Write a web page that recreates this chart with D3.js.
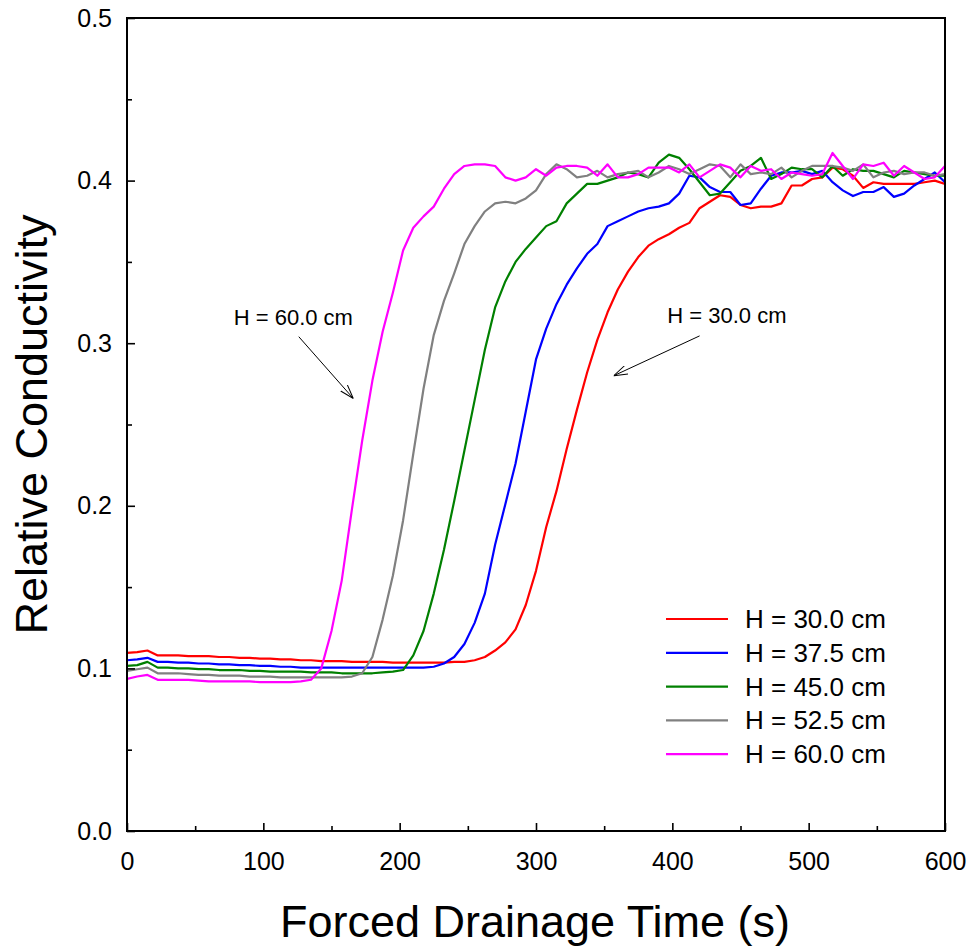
<!DOCTYPE html>
<html>
<head>
<meta charset="utf-8">
<script src="https://cdn.jsdelivr.net/npm/d3@7"></script>
<style>
  body { margin: 0; background: #fff; }
  text { font-family: Arial, "Liberation Sans", sans-serif; fill: #000; }
</style>
</head>
<body>
<div id="chart"></div>
<script>
// sample times (s)
var time = [0, 7.5, 15, 22.5, 30, 37.5, 45, 52.5, 60, 67.5, 75, 82.5, 90, 97.5, 105, 112.5, 120, 127.5, 135, 142.5,
  150, 157.5, 165, 172.5, 180, 187.5, 195, 202.5, 210, 217.5, 225, 232.5, 240, 247.5, 255, 262.5, 270, 277.5, 285, 292.5,
  300, 307.5, 315, 322.5, 330, 337.5, 345, 352.5, 360, 367.5, 375, 382.5, 390, 397.5, 405, 412.5, 420, 427.5, 435, 442.5,
  450, 457.5, 465, 472.5, 480, 487.5, 495, 502.5, 510, 517.5, 525, 532.5, 540, 547.5, 555, 562.5, 570, 577.5, 585, 592.5, 600]

var h300 = [0.1095, 0.110, 0.111, 0.108, 0.108, 0.108, 0.1075, 0.1075, 0.1075, 0.107, 0.107, 0.1065, 0.1065, 0.106, 0.106, 0.1055, 0.1055,
  0.105, 0.105, 0.1045, 0.1045, 0.1045, 0.104, 0.104, 0.104, 0.104, 0.1035, 0.1035, 0.1035, 0.1035, 0.1035, 0.1035,
  0.104, 0.104, 0.105, 0.107, 0.111, 0.116, 0.124, 0.139, 0.160, 0.187, 0.209, 0.235, 0.259, 0.282, 0.302, 0.319, 0.333, 0.344,
  0.353, 0.360, 0.364, 0.367, 0.371, 0.374, 0.383, 0.387, 0.391, 0.390, 0.385, 0.383, 0.384, 0.384, 0.386, 0.397, 0.397, 0.401,
  0.402, 0.408, 0.407, 0.403, 0.3955, 0.399, 0.398, 0.398, 0.398, 0.398, 0.399, 0.400, 0.398]

var h375 = [0.105, 0.1055, 0.1065, 0.104, 0.104, 0.1035, 0.1035, 0.103, 0.103, 0.1025, 0.1025, 0.102, 0.102, 0.1015, 0.1015, 0.101, 0.101,
  0.1005, 0.1005, 0.1005, 0.1005, 0.1005, 0.1005, 0.1005, 0.1005, 0.1005, 0.1005, 0.1005, 0.1005, 0.1005, 0.101,
  0.103, 0.107, 0.115, 0.128, 0.146, 0.176, 0.201, 0.226, 0.258, 0.290, 0.309, 0.324, 0.336, 0.346, 0.355, 0.361, 0.372, 0.375,
  0.378, 0.381, 0.383, 0.384, 0.386, 0.392, 0.403, 0.402, 0.396, 0.393, 0.393, 0.385, 0.386, 0.395, 0.403, 0.405, 0.405, 0.406,
  0.404, 0.406, 0.399, 0.394, 0.3905, 0.393, 0.393, 0.396, 0.390, 0.392, 0.397, 0.401, 0.405, 0.399]

var h450 = [0.1015, 0.102, 0.104, 0.1005, 0.1005, 0.100, 0.100, 0.0995, 0.0995, 0.099, 0.099, 0.099, 0.0985, 0.0985, 0.098, 0.098,
  0.098, 0.098, 0.0975, 0.0975, 0.0975, 0.097, 0.097, 0.097, 0.097, 0.0975, 0.098, 0.099,
  0.108, 0.123, 0.146, 0.173, 0.203, 0.234, 0.265, 0.296, 0.322, 0.338, 0.350, 0.358, 0.365, 0.372, 0.375, 0.386, 0.392, 0.398,
  0.398, 0.400, 0.402, 0.405, 0.404, 0.402, 0.411, 0.416, 0.414, 0.407, 0.399, 0.391, 0.392, 0.399, 0.406, 0.409, 0.414, 0.401,
  0.404, 0.408, 0.407, 0.407, 0.402, 0.409, 0.403, 0.407, 0.406, 0.406, 0.404, 0.402, 0.406, 0.405, 0.404, 0.403, 0.403]

var h525 = [0.0985, 0.0995, 0.1005, 0.097, 0.097, 0.097, 0.0965, 0.096, 0.096, 0.0955, 0.0955, 0.0955, 0.095, 0.095, 0.095, 0.0945,
  0.0945, 0.0945, 0.0945, 0.0945, 0.0945, 0.0945, 0.095, 0.097,
  0.107, 0.130, 0.157, 0.191, 0.232, 0.272, 0.305, 0.326, 0.343, 0.361, 0.372, 0.381, 0.386, 0.387, 0.386, 0.389, 0.394, 0.404,
  0.410, 0.407, 0.402, 0.403, 0.406, 0.402, 0.404, 0.405, 0.406, 0.402, 0.405, 0.409, 0.407, 0.404, 0.407, 0.410, 0.409, 0.402,
  0.410, 0.404, 0.405, 0.404, 0.408, 0.402, 0.406, 0.409, 0.409, 0.409, 0.408, 0.406, 0.410, 0.402, 0.405, 0.406, 0.404, 0.405,
  0.405, 0.403, 0.404]

var h600 = [0.0935, 0.095, 0.096, 0.093, 0.093, 0.093, 0.093, 0.0925, 0.092, 0.092, 0.092, 0.092, 0.092, 0.0915, 0.0915, 0.0915,
  0.0915, 0.092, 0.093,
  0.100, 0.123, 0.154, 0.198, 0.240, 0.277, 0.307, 0.331, 0.357, 0.371, 0.378, 0.384, 0.395, 0.404, 0.409, 0.410, 0.410, 0.409,
  0.402, 0.400, 0.402, 0.407, 0.403, 0.408, 0.409, 0.409, 0.408, 0.403, 0.410, 0.402, 0.402, 0.404, 0.408, 0.408, 0.408, 0.405,
  0.410, 0.402, 0.406, 0.410, 0.408, 0.402, 0.409, 0.406, 0.407, 0.401, 0.405, 0.404, 0.403, 0.404, 0.417, 0.409, 0.401, 0.410,
  0.409, 0.411, 0.403, 0.409, 0.405, 0.401, 0.402, 0.409]

var seriesNames = ['H = 30.0 cm', 'H = 37.5 cm', 'H = 45.0 cm', 'H = 52.5 cm', 'H = 60.0 cm']
var seriesValues = [h300, h375, h450, h525, h600]
var seriesColors = ['#ff0000', '#0000ff', '#008000', '#808080', '#ff00ff']

var xTicks = [0, 100, 200, 300, 400, 500, 600]
var xMinorTicks = [50, 150, 250, 350, 450, 550]
var yTicks = [0.0, 0.1, 0.2, 0.3, 0.4, 0.5]
var yMinorTicks = [0.05, 0.15, 0.25, 0.35, 0.45]

// annotations in data units: label position, arrow start, arrow end
var notes = [
  { text: 'H = 60.0 cm', t: 122, v: 0.311, t0: 126, v0: 0.304, t1: 166, v1: 0.266 },
  { text: 'H = 30.0 cm', t: 440, v: 0.3125, t0: 420, v0: 0.3045, t1: 357, v1: 0.280 }
]

var width = 973
var height = 949
var margin = { top: 18, right: 28, bottom: 118, left: 127 }

var svg = d3.select("#chart")
  .append("svg")
  .attr("width", width)
  .attr("height", height)

var xScale = d3.scaleLinear()
  .domain([0, 600])
  .range([margin.left, width - margin.right])

var yScale = d3.scaleLinear()
  .domain([0, 0.5])
  .range([height - margin.bottom, margin.top])

svg.append("defs").append("clipPath")
  .attr("id", "plot-clip")
  .append("rect")
  .attr("x", margin.left)
  .attr("y", margin.top)
  .attr("width", xScale(600) - xScale(0))
  .attr("height", yScale(0) - yScale(0.5))

var arrow = svg.select("defs").append("marker")
  .attr("id", "arrow")
  .attr("viewBox", "0 0 14 10")
  .attr("refX", 14)
  .attr("refY", 5)
  .attr("markerWidth", 14)
  .attr("markerHeight", 10)
  .attr("markerUnits", "userSpaceOnUse")
  .attr("orient", "auto")
arrow.append("path")
  .attr("d", "M0,0.5 L14,5 L0,9.5")
  .attr("fill", "none")
  .attr("stroke", "#000")
  .attr("stroke-width", 1)

// Curves
var line = d3.line()
  .x((d, i) => xScale(time[i]))
  .y(d => yScale(d))

svg.append("g")
  .attr("clip-path", "url(#plot-clip)")
  .selectAll("path")
  .data(seriesValues)
  .enter()
  .append("path")
  .attr("d", d => line(d))
  .attr("fill", "none")
  .attr("stroke", (d, i) => seriesColors[i])
  .attr("stroke-width", 2.2)
  .attr("stroke-linejoin", "round")

// Axes (ticks point inward)
var xAxis = d3.axisBottom(xScale)
  .tickValues(xTicks)
  .tickFormat(d3.format("d"))
  .tickSizeInner(-8)
  .tickSizeOuter(0)
  .tickPadding(21)

var xMinor = d3.axisBottom(xScale)
  .tickValues(xMinorTicks)
  .tickFormat("")
  .tickSizeInner(-5)
  .tickSizeOuter(0)

var yAxis = d3.axisLeft(yScale)
  .tickValues(yTicks)
  .tickFormat(d3.format(".1f"))
  .tickSizeInner(-8)
  .tickSizeOuter(0)
  .tickPadding(15)

var yMinor = d3.axisLeft(yScale)
  .tickValues(yMinorTicks)
  .tickFormat("")
  .tickSizeInner(-5)
  .tickSizeOuter(0)

var gx = svg.append("g")
  .attr("transform", `translate(0,${height - margin.bottom})`)
  .call(xAxis)
gx.append("g").call(xMinor)

var gy = svg.append("g")
  .attr("transform", `translate(${margin.left},0)`)
  .call(yAxis)
gy.append("g").call(yMinor)

svg.selectAll(".domain").remove()
svg.selectAll(".tick line")
  .attr("stroke", "#000")
  .attr("stroke-width", 1.6)
svg.selectAll(".tick text")
  .style("font-size", "25px")
  .style("font-family", "Arial, 'Liberation Sans', sans-serif")
  .attr("fill", "#000")

// Frame
svg.append("rect")
  .attr("x", xScale(0))
  .attr("y", yScale(0.5))
  .attr("width", xScale(600) - xScale(0))
  .attr("height", yScale(0) - yScale(0.5))
  .attr("fill", "none")
  .attr("stroke", "#000")
  .attr("stroke-width", 2)

// Axis titles
svg.append("text")
  .attr("x", (xScale(0) + xScale(600)) / 2 - 1)
  .attr("y", 937)
  .attr("text-anchor", "middle")
  .style("font-size", "45px")
  .text("Forced Drainage Time (s)")

svg.append("text")
  .attr("transform", `translate(47,${(yScale(0) + yScale(0.5)) / 2}) rotate(-90)`)
  .attr("text-anchor", "middle")
  .style("font-size", "45px")
  .text("Relative Conductivity")

// Annotations
var gNotes = svg.append("g")
gNotes.selectAll("text")
  .data(notes)
  .enter()
  .append("text")
  .attr("x", d => xScale(d.t))
  .attr("y", d => yScale(d.v))
  .attr("text-anchor", "middle")
  .style("font-size", "22px")
  .text(d => d.text)

gNotes.selectAll("line")
  .data(notes)
  .enter()
  .append("line")
  .attr("x1", d => xScale(d.t0))
  .attr("y1", d => yScale(d.v0))
  .attr("x2", d => xScale(d.t1))
  .attr("y2", d => yScale(d.v1))
  .attr("stroke", "#000")
  .attr("stroke-width", 1)
  .attr("marker-end", "url(#arrow)")

// Legend
var legend = svg.append("g")
  .attr("transform", "translate(666,619)")

var rows = legend.selectAll("g")
  .data(seriesNames)
  .enter()
  .append("g")
  .attr("transform", (d, i) => `translate(0,${i * 33.8})`)

rows.append("line")
  .attr("x1", 0)
  .attr("x2", 62)
  .attr("stroke", (d, i) => seriesColors[i])
  .attr("stroke-width", 2.2)

rows.append("text")
  .attr("x", 79)
  .attr("y", 9)
  .style("font-size", "26px")
  .text(d => d)
</script>
</body>
</html>
